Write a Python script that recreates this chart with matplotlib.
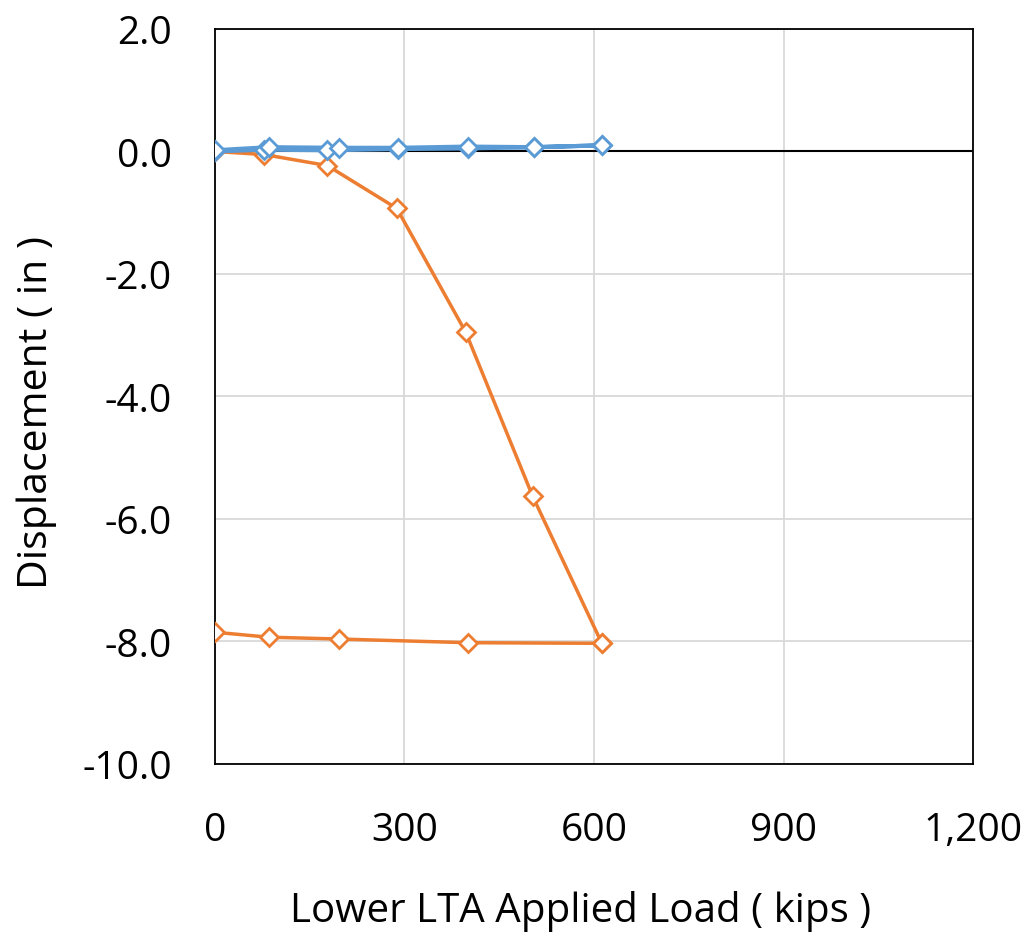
import matplotlib
matplotlib.use("Agg")
import matplotlib.pyplot as plt
from matplotlib.ticker import FuncFormatter

# Orange series (loading then unloading)
orange_load = [0, 78, 178, 288, 397, 503, 612]
orange_disp_load = [0.0, -0.05, -0.23, -0.93, -2.95, -5.63, -8.02]
orange_unload = [612, 400, 196, 85, 1]
orange_disp_unload = [-8.03, -8.02, -7.96, -7.93, -7.85]

# Blue series (loading then unloading)
blue_load = [0, 78, 178, 290, 400, 505, 612]
blue_disp_load = [0.0, 0.03, 0.02, 0.04, 0.05, 0.07, 0.10]
blue_unload = [612, 505, 400, 290, 196, 85, 0]
blue_disp_unload = [0.10, 0.07, 0.08, 0.06, 0.06, 0.07, 0.02]

x_ticks = [0, 300, 600, 900, 1200]
y_ticks = [-10, -8, -6, -4, -2, 0, 2]

plt.rcParams['font.family'] = ['Open Sans', 'DejaVu Sans']

fig = plt.figure(figsize=(10.33, 9.37), dpi=100)
ax = fig.add_axes([0.208, 0.1836, 0.734, 0.7844])

orange = '#ED7D31'
blue = '#5B9BD5'

ox = orange_load + orange_unload
oy = orange_disp_load + orange_disp_unload
bx = blue_load + blue_unload
by = blue_disp_load + blue_disp_unload

ax.plot(ox, oy, color=orange, lw=2.5, marker='D', ms=9.5, mfc='white', mec=orange, mew=2.0, zorder=3)
ax.plot(bx, by, color=blue, lw=3.0, marker='D', ms=9.5, mfc='white', mec=blue, mew=2.0, zorder=4)

ax.axhline(0, color='black', lw=1.5, zorder=2)

ax.set_xlim(0, 1200)
ax.set_ylim(-10, 2)
ax.set_xticks(x_ticks)
ax.set_yticks(y_ticks)
ax.xaxis.set_major_formatter(FuncFormatter(lambda v, p: f"{int(v):,}"))
ax.yaxis.set_major_formatter(FuncFormatter(lambda v, p: f"{v:.1f}"))
ax.grid(True, color='#d9d9d9', lw=1.3, zorder=0)
ax.set_axisbelow(True)
ax.tick_params(length=0, labelsize=28)
ax.tick_params(axis='x', pad=34)
ax.tick_params(axis='y', pad=31)
for s in ax.spines.values():
    s.set_color('black')
    s.set_linewidth(1.3)

ax.set_xlabel('Lower LTA Applied Load ( kips )', fontsize=29)
ax.xaxis.set_label_coords(0.482, -0.1714)
ax.set_ylabel('Displacement ( in )', fontsize=29.5)
ax.yaxis.set_label_coords(-0.208, 0.48)

fig.savefig('out.png', dpi=100, facecolor='white')
